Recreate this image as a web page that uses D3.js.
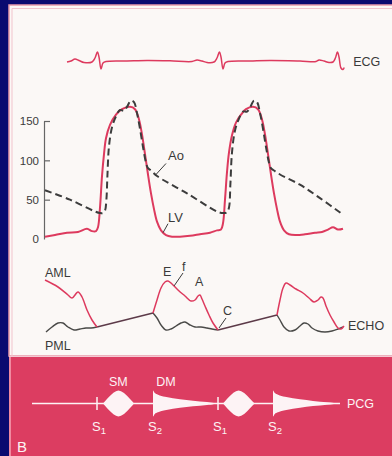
<!DOCTYPE html>
<html>
<head>
<meta charset="utf-8">
<script src="https://cdn.jsdelivr.net/npm/d3@7"></script>
<style>
  html, body { margin: 0; padding: 0; background: #0a0a70; }
  svg { display: block; }
  text { font-family: "Liberation Sans", Arial, sans-serif; }
</style>
</head>
<body>
<script>
// Mitral stenosis: ECG, LV / aortic pressure, M-mode echo of the mitral leaflets, phonocardiogram.
// Time is in ms, two cardiac cycles.

// ECG (ms, mV)
const ecg = [
  [110,0],[130,0.1],[150,0.3],[170,0.15],[195,-0.05],[235,0],[250,0.4],[262,1.0],[270,0.5],
  [280,-0.7],[290,-0.1],[305,0.05],[410,0.1],[510,0.15],[625,0.12],[735,0.05],[760,0.2],
  [785,0.1],[810,-0.05],[845,0],[860,0.4],[872,1.0],[880,0.5],[890,-0.7],[900,-0.1],
  [915,0.05],[1025,0.1],[1125,0.15],[1275,0.1],[1355,0.05],[1370,0.2],[1395,0.1],
  [1420,-0.05],[1440,0],[1452,0.4],[1462,1.0],[1470,0.5],[1480,-0.6],[1490,-0.75],[1496,-0.55]
];

// Left-ventricular pressure (ms, mmHg)
const lvPressure = [
  [0,3],[50,5],[110,8],[165,9],[210,13],[235,10],[255,10],[265,15],[275,40],[285,80],
  [295,108],[305,128],[325,145],[355,158],[385,165],[425,168],[450,165],[470,152],[485,133],
  [500,108],[515,82],[530,58],[545,38],[560,22],[580,11],[605,5],[635,3],[675,3],[725,4],
  [775,6],[825,8],[860,11],[880,12],[890,20],[900,50],[910,85],[920,110],[935,132],[955,148],
  [980,158],[1005,165],[1040,168],[1065,165],[1085,152],[1100,133],[1115,108],[1130,82],
  [1145,58],[1160,38],[1175,22],[1195,11],[1220,6],[1255,5],[1300,6],[1350,8],[1385,9],
  [1415,12],[1440,15],[1465,12],[1490,13]
];

// Aortic pressure (ms, mmHg)
const aoPressure = [
  [0,62],[125,50],[250,35],[275,33],[290,33],[300,36],[307,50],[312,80],[320,118],[335,142],
  [355,156],[375,164],[395,163],[410,168],[430,176],[445,174],[460,160],[475,140],[490,117],
  [505,97],[515,90],[530,87],[560,80],[710,58],[860,35],[890,33],[910,34],[920,40],[927,70],
  [935,110],[950,138],[970,153],[990,162],[1010,162],[1025,167],[1045,176],[1060,174],
  [1075,160],[1090,140],[1105,117],[1120,97],[1130,90],[1145,87],[1175,82],[1275,69],
  [1375,52],[1490,31]
];

const pressureTicks = [0, 50, 100, 150];

// Anterior mitral leaflet, diastolic segments (ms, mm)
const amlEcho = [
  [[0,32.5],[65,29],[115,25],[135,23.5],[165,26.5],[185,24],[210,17.5],[235,12.5],[260,9]],
  [[540,16],[560,22.5],[580,28.5],[600,31.5],[615,32],[635,30.5],[665,27.5],[700,24.5],
   [730,22],[750,22.5],[765,24.5],[775,25],[785,23],[800,19.5],[820,15],[840,11],[865,7.5]],
  [[1160,15],[1175,22.5],[1190,28.5],[1205,31],[1225,30],[1255,28],[1290,26],[1320,23.5],
   [1345,21.5],[1365,22.5],[1380,24],[1390,23.5],[1405,19.5],[1425,15],[1445,11.5],
   [1465,8.5],[1480,8],[1495,9.5]]
];

// Posterior mitral leaflet, diastolic segments (ms, mm)
const pmlEcho = [
  [[5,6.5],[35,9],[65,11],[90,11],[115,9],[145,7.5],[175,8],[205,8.5],[230,8.5],[260,9]],
  [[540,16],[560,13.5],[580,10],[605,7.5],[630,8],[655,9.5],[680,11],[700,11.5],[725,10],
   [750,9],[780,9],[810,8.5],[835,8],[865,7.5]],
  [[1160,15],[1175,12.5],[1195,9],[1220,7],[1250,7.5],[1275,9.5],[1295,11],[1315,10.5],
   [1335,8.5],[1365,7],[1400,6.5],[1435,7],[1465,8],[1490,9]]
];

// Closed leaflets moving together through systole (ms, mm)
const closedLeaflets = [
  [[260,9],[540,16]],
  [[865,7.5],[1160,15]]
];

// Heart sounds (ms)
const heartSounds = [
  { name: "S", sub: "1", t: 260, kind: "tick" },
  { name: "S", sub: "2", t: 540, kind: "edge" },
  { name: "S", sub: "1", t: 865, kind: "tick" },
  { name: "S", sub: "2", t: 1140, kind: "edge" }
];

// Murmur envelopes (ms, relative amplitude)
const systolicMurmurs = [
  [[290,0],[300,0.17],[312,0.38],[327,0.62],[342,0.82],[355,0.94],[367,1],[380,0.94],
   [395,0.8],[410,0.6],[424,0.36],[437,0.15],[445,0]],
  [[890,0],[900,0.17],[912,0.38],[927,0.62],[942,0.82],[955,0.94],[968,1],[981,0.94],
   [996,0.8],[1011,0.6],[1025,0.36],[1038,0.15],[1048,0]]
];
const diastolicMurmurs = [
  [[540,0],[540,1.0],[548,0.82],[565,0.68],[600,0.52],[640,0.4],[675,0.33],[740,0.22],
   [810,0.11],[845,0.03],[850,0]],
  [[1140,0],[1140,1.0],[1148,0.82],[1165,0.68],[1200,0.52],[1240,0.4],[1275,0.33],
   [1340,0.2],[1410,0.1],[1445,0.03],[1450,0]]
];
const pcgSpan = [-65, 1475];

// Annotations: text placed beside a point on a trace
const pressureNotes = [
  { text: "Ao", t: 555, v: 82, dx: 10, dy: -11, lx: 12, ly: -14 },
  { text: "LV", t: 590, v: 8, dx: 5, dy: -9, lx: 5, ly: -11 }
];
const echoNotes = [
  { text: "E", t: 610, v: 32, tx: -4, ty: -5 },
  { text: "A", t: 770, v: 25, tx: -4, ty: -9 }
];
const echoLeaders = [
  { text: "f", t: 645, v: 29.5, dx: 9, dy: -13, tx: 8, ty: -15 },
  { text: "C", t: 870, v: 8.5, dx: 7, dy: -10, tx: 4, ty: -13 }
];

const W = 392, H = 456;
const RED = "#dd3a5e";
const INK = "#3a3a3a";

const svg = d3.select("body").append("svg").attr("width", W).attr("height", H);

// backgrounds
svg.append("rect").attr("width", W).attr("height", H).attr("fill", "#0a0a70");
svg.append("rect").attr("x", 9).attr("y", 5).attr("width", W).attr("height", 351)
  .attr("fill", "#fbf8f6").attr("stroke", "#e99aaa").attr("stroke-width", 1.5);
svg.append("path").attr("d", "M12,356 V8.5 H392").attr("fill", "none")
  .attr("stroke", "#f1c3cc").attr("stroke-width", 1);
svg.append("rect").attr("x", 9).attr("y", 357).attr("width", W).attr("height", H)
  .attr("fill", "#dc3d61");
svg.append("line").attr("x1", 10).attr("x2", 10).attr("y1", 357).attr("y2", H)
  .attr("stroke", "#f08aa0").attr("stroke-width", 2);
svg.append("line").attr("x1", 9).attr("x2", W).attr("y1", 356.5).attr("y2", 356.5)
  .attr("stroke", "#f4c9d2").attr("stroke-width", 1.2);

// scales
const x = d3.scaleLinear().domain([0, 1500]).range([45, 345]);
const yEcg = d3.scaleLinear().domain([-1, 1]).range([72, 52]);
const yP = d3.scaleLinear().domain([0, 150]).range([239, 121]);
const yEcho = d3.scaleLinear().domain([0, 35]).range([345, 275]);
const pcgY = 403.5;
const amp = d3.scaleLinear().domain([0, 1]).range([0, 13]);

const smooth = d3.curveCatmullRom.alpha(0.5);
const line = (ys) => d3.line().x(d => x(d[0])).y(d => ys(d[1])).curve(smooth);

// ECG
svg.append("path").datum(ecg).attr("d", line(yEcg)).attr("fill", "none")
  .attr("stroke", RED).attr("stroke-width", 1.5).attr("stroke-linejoin", "round");
svg.append("text").attr("x", x(ecg[ecg.length - 1][0]) + 9).attr("y", 66)
  .attr("font-size", 12.5).attr("fill", INK).text("ECG");

// pressure axis
const axis = d3.axisLeft(yP).tickValues(pressureTicks).tickSizeInner(-6).tickSizeOuter(0)
  .tickPadding(5);
const gAxis = svg.append("g").attr("transform", `translate(${x(0) - 1},0)`).call(axis);
gAxis.select(".domain").attr("stroke", "#666").attr("stroke-width", 1.2);
gAxis.selectAll(".tick line").attr("stroke", "#666").attr("stroke-width", 1.2)
  .filter(d => d === 0).remove();
gAxis.selectAll(".tick text").attr("font-size", 11.5).attr("fill", INK)
  .attr("font-family", "Liberation Sans, Arial, sans-serif");

// pressure curves
svg.append("path").datum(lvPressure).attr("d", line(yP)).attr("fill", "none")
  .attr("stroke", RED).attr("stroke-width", 2).attr("stroke-linejoin", "round");
svg.append("path").datum(aoPressure).attr("d", line(yP)).attr("fill", "none")
  .attr("stroke", "#3c3c3c").attr("stroke-width", 2).attr("stroke-dasharray", "7,4");

pressureNotes.forEach(n => {
  const px = x(n.t), py = yP(n.v);
  svg.append("line").attr("x1", px).attr("y1", py).attr("x2", px + n.dx).attr("y2", py + n.dy)
    .attr("stroke", INK).attr("stroke-width", 1);
  svg.append("text").attr("x", px + n.lx).attr("y", py + n.ly)
    .attr("font-size", 13).attr("fill", INK).text(n.text);
});

// echo
svg.selectAll("path.pml").data(pmlEcho).join("path").attr("class", "pml")
  .attr("d", line(yEcho)).attr("fill", "none").attr("stroke", "#4a4a48").attr("stroke-width", 1.4);
svg.selectAll("path.closed").data(closedLeaflets).join("path").attr("class", "closed")
  .attr("d", line(yEcho)).attr("fill", "none").attr("stroke", "#5c3a48").attr("stroke-width", 1.5);
svg.selectAll("path.aml").data(amlEcho).join("path").attr("class", "aml")
  .attr("d", line(yEcho)).attr("fill", "none").attr("stroke", RED).attr("stroke-width", 1.5)
  .attr("stroke-linejoin", "round");

svg.append("text").attr("x", x(0)).attr("y", 277).attr("font-size", 12.5).attr("fill", INK).text("AML");
svg.append("text").attr("x", x(0)).attr("y", 350).attr("font-size", 12.5).attr("fill", INK).text("PML");
svg.append("text").attr("x", x(1495) + 4).attr("y", 330).attr("font-size", 12.5).attr("fill", INK).text("ECHO");

echoNotes.forEach(n => {
  svg.append("text").attr("x", x(n.t) + n.tx).attr("y", yEcho(n.v) + n.ty)
    .attr("font-size", 12.5).attr("fill", INK).text(n.text);
});
echoLeaders.forEach(n => {
  const px = x(n.t), py = yEcho(n.v);
  svg.append("line").attr("x1", px).attr("y1", py).attr("x2", px + n.dx).attr("y2", py + n.dy)
    .attr("stroke", INK).attr("stroke-width", 1);
  svg.append("text").attr("x", px + n.tx).attr("y", py + n.ty)
    .attr("font-size", 12.5).attr("fill", INK).text(n.text);
});

// phonocardiogram
const WHITE = "#fdf3f5";
svg.append("line").attr("x1", x(pcgSpan[0])).attr("x2", x(pcgSpan[1]))
  .attr("y1", pcgY).attr("y2", pcgY).attr("stroke", WHITE).attr("stroke-width", 1.3);

const murmurArea = d3.area().x(d => x(d[0]))
  .y0(d => pcgY + amp(d[1])).y1(d => pcgY - amp(d[1])).curve(d3.curveLinear);
svg.selectAll("path.sm").data(systolicMurmurs).join("path").attr("class", "sm")
  .attr("d", murmurArea).attr("fill", WHITE);
svg.selectAll("path.dm").data(diastolicMurmurs).join("path").attr("class", "dm")
  .attr("d", murmurArea.curve(d3.curveMonotoneX)).attr("fill", WHITE);

heartSounds.filter(s => s.kind === "tick").forEach(s => {
  svg.append("line").attr("x1", x(s.t)).attr("x2", x(s.t))
    .attr("y1", pcgY - amp(0.5)).attr("y2", pcgY + amp(0.5))
    .attr("stroke", WHITE).attr("stroke-width", 1.5);
});

heartSounds.forEach(s => {
  const t = svg.append("text").attr("x", x(s.t) - 5).attr("y", 431)
    .attr("font-size", 13).attr("fill", WHITE);
  t.append("tspan").text(s.name);
  t.append("tspan").attr("dy", 3).attr("font-size", 9.5).text(s.sub);
});

svg.append("text").attr("x", x(367)).attr("y", 386).attr("text-anchor", "middle")
  .attr("font-size", 12.5).attr("fill", WHITE).text("SM");
svg.append("text").attr("x", x(605)).attr("y", 386).attr("text-anchor", "middle")
  .attr("font-size", 12.5).attr("fill", WHITE).text("DM");
svg.append("text").attr("x", x(pcgSpan[1]) + 7).attr("y", 408)
  .attr("font-size", 12.5).attr("fill", WHITE).text("PCG");
svg.append("text").attr("x", 17).attr("y", 452)
  .attr("font-size", 15).attr("fill", WHITE).text("B");
</script>
</body>
</html>
